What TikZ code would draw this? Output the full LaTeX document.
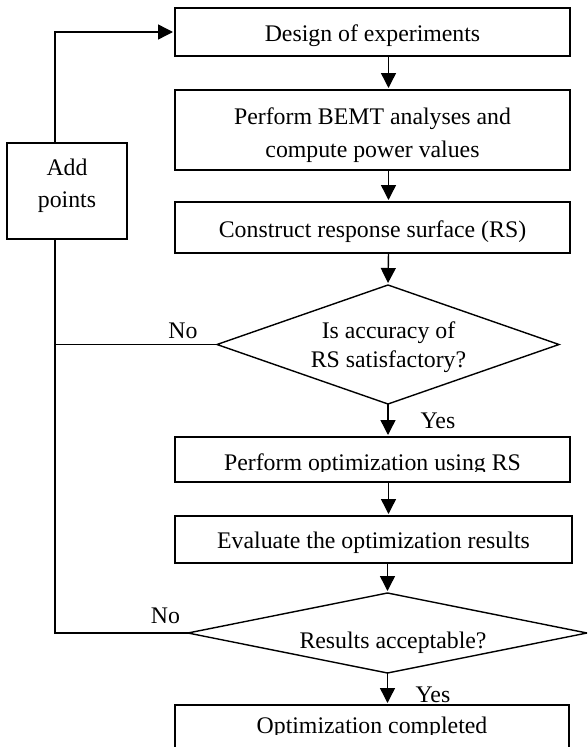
\documentclass[tikz,border=0pt]{standalone}
\usepackage{fontspec}
\setmainfont{Liberation Serif}
\usetikzlibrary{arrows.meta,shapes.geometric}

\begin{document}
\begin{tikzpicture}[x=1pt,y=-1pt,
  every node/.style={inner sep=0pt, outer sep=0pt},
  box/.style={draw, line width=1.4pt, rectangle, minimum width=395pt},
  decision/.style={draw, line width=1.4pt, diamond},
  txt/.style={font=\fontsize{23.8pt}{32pt}\selectfont, align=center},
  flow/.style={line width=1.4pt},
  arr/.style={flow, -{Triangle[length=15pt,width=15pt]}, shorten >=2pt}
]
\clip (0,0) rectangle (587,747);

% process boxes
\node[box, minimum height=48pt] (b1) at (372.5,32) {};
\node[box, minimum height=80pt] (b2) at (372.5,130) {};
\node[box, minimum height=51pt] (b3) at (372.5,227.5) {};
\node[box, minimum height=45pt] (b4) at (372.5,459.5) {};
\node[box, minimum height=47pt, minimum width=397pt] (b5) at (373.5,539.5) {};
\node[box, minimum height=80pt, minimum width=394pt] (b6) at (372,745) {};
\node[box, minimum width=120pt, minimum height=96pt] (ap) at (67,191) {};

% decisions
\node[decision, minimum width=342pt, minimum height=119pt] (d1) at (388,344.5) {};
\node[decision, minimum width=399pt, minimum height=80pt] (d2) at (387.5,633) {};

% texts
\node[txt, anchor=base] (t1) at (372.5,41.7) {Design of experiments};
\node[txt, font=\fontsize{23.8pt}{33pt}\selectfont] (t2) at (372.5,135) {Perform BEMT analyses and\\compute power values};
\node[txt, anchor=base] (t3) at (372.5,237) {Construct response surface (RS)};
\begin{scope}
  \clip (175,437) rectangle (570,471);
  \node[txt, anchor=base] (t4) at (372.5,470) {Perform optimization using RS};
\end{scope}
\node[txt, anchor=base] (t5) at (373.5,548) {Evaluate the optimization results};
\begin{scope}
  \clip (175,705) rectangle (569,734);
  \node[txt, anchor=base] (t6) at (372,733) {Optimization completed};
\end{scope}
\node[txt] (tap) at (67,186) {Add\\points};
\node[txt, font=\fontsize{23.8pt}{28.4pt}\selectfont] (td1) at (388.5,347) {Is accuracy of\\RS satisfactory?};
\node[txt, anchor=base] (td2) at (393,648) {Results acceptable?};

% branch labels
\node[txt, anchor=base] (yes1) at (438,428) {Yes};
\node[txt, anchor=base] (yes2) at (433,702.5) {Yes};
\node[txt, anchor=base] (no1) at (183,338) {No};
\node[txt, anchor=base] (no2) at (165.5,623) {No};

% main flow
\coordinate (spine) at (388.5,0);
\draw[arr] (b1.south -| spine) -- (b2.north -| spine);
\draw[arr] (b2.south -| spine) -- (b3.north -| spine);
\draw[arr] (b3.south -| spine) -- (d1.north);
\draw[arr] (d1.south) -- (b4.north -| d1.south);
\draw[arr] (b4.south -| spine) -- (b5.north -| spine);
\draw[arr] (b5.south -| d2.north) -- (d2.north);
\draw[arr] (d2.south) -- (b6.north -| d2.south);

% feedback loop through "Add points"
\coordinate (rail) at (55,0);
\draw[arr] (ap.north -| rail) |- (b1.west);
\draw[flow] (ap.south -| rail) |- (d2.west);
\draw[flow] (d1.west) -- (d1.west -| rail);
\end{tikzpicture}
\end{document}
